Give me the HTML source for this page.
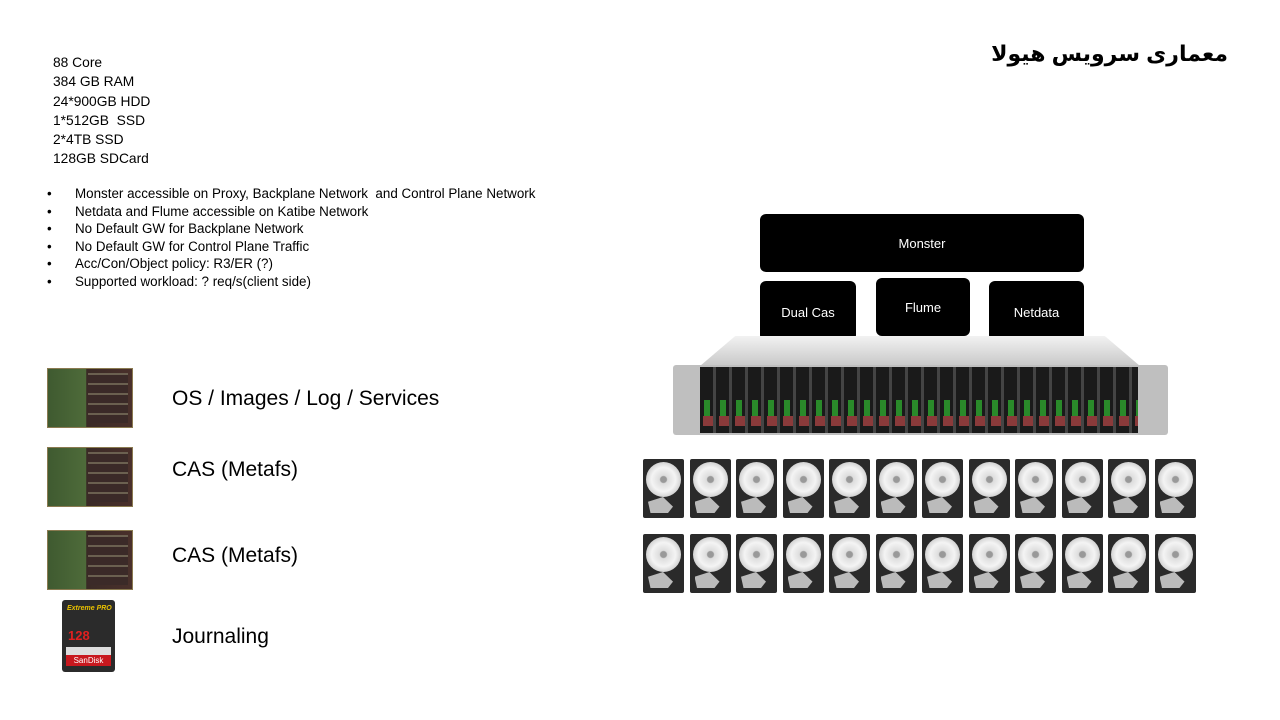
<!DOCTYPE html>
<html><head><meta charset="utf-8"><style>
body{margin:0;width:1280px;height:720px;background:#fff;position:relative;overflow:hidden;font-family:"Liberation Sans",sans-serif;color:#000}
.a{position:absolute}
.spec div{font-size:13.8px;height:19.3px;line-height:19.3px}
.bul div{font-size:13.4px;height:17.6px;line-height:17.6px;position:relative;padding-left:28px;white-space:nowrap}
.bul div:before{content:"•";position:absolute;left:0}
.big{font-size:21px}
.box{position:absolute;background:#000;color:#fff;border-radius:6px;font-size:13px;display:flex;align-items:center;justify-content:center}
.ssd{position:absolute;width:86px;height:60px;background:linear-gradient(90deg,#3f5a30 0,#4e6b3a 45%,#3a2a26 46%,#4a302b 100%);border:1px solid #8a7a50;box-sizing:border-box}
.ssd:after{content:"";position:absolute;left:40px;top:4px;width:40px;height:50px;background:repeating-linear-gradient(0deg,#3b2a28 0 8px,#6b6050 8px 10px)}
.hdd{position:absolute;width:41px;height:59px;background:#2a2a2a;border-radius:2px}
.hdd:before{content:"";position:absolute;left:3px;top:3px;width:35px;height:35px;border-radius:50%;background:radial-gradient(circle,#999 0 3px,#ddd 4px,#f4f4f4 12px,#cfcfcf 18px)}
.hdd:after{content:"";position:absolute;left:5px;top:38px;width:25px;height:16px;background:#bbb;clip-path:polygon(0 30%,60% 0,100% 60%,80% 100%,10% 100%)}
</style></head><body>
<div class="a" style="right:52px;top:41px;font-size:22px;font-weight:bold;font-family:'Liberation Sans','DejaVu Sans',sans-serif" dir="rtl">معماری سرویس هیولا</div>
<div class="a spec" style="left:53px;top:53px">
<div>88 Core</div><div>384 GB RAM</div><div>24*900GB HDD</div><div>1*512GB &nbsp;SSD</div><div>2*4TB SSD</div><div>128GB SDCard</div></div>
<div class="a bul" style="left:47px;top:185px">
<div>Monster accessible on Proxy, Backplane Network &nbsp;and Control Plane Network</div>
<div>Netdata and Flume accessible on Katibe Network</div>
<div>No Default GW for Backplane Network</div>
<div>No Default GW for Control Plane Traffic</div>
<div>Acc/Con/Object policy: R3/ER (?)</div>
<div>Supported workload: ? req/s(client side)</div></div>
<div class="ssd" style="left:47px;top:368px"></div>
<div class="ssd" style="left:47px;top:447px"></div>
<div class="ssd" style="left:47px;top:530px"></div>
<div class="a" style="left:62px;top:600px;width:53px;height:72px;background:#2b2b2b;border-radius:3px">
<div class="a" style="left:5px;top:5px;color:#e8c000;font-size:7px;font-weight:bold;font-style:italic">Extreme PRO</div>
<div class="a" style="left:6px;top:28px;color:#e02020;font-size:13px;font-weight:bold">128</div>
<div class="a" style="left:4px;top:47px;width:45px;height:8px;background:#ddd"></div>
<div class="a" style="left:4px;top:55px;width:45px;height:11px;background:#c8181e;color:#fff;font-size:8px;text-align:center;line-height:11px">SanDisk</div></div>
<div class="a big" style="left:172px;top:387px">OS / Images / Log / Services</div>
<div class="a big" style="left:172px;top:458px">CAS (Metafs)</div>
<div class="a big" style="left:172px;top:544px">CAS (Metafs)</div>
<div class="a big" style="left:172px;top:625px">Journaling</div>
<div class="box" style="left:760px;top:214px;width:324px;height:58px">Monster</div>
<div class="box" style="left:760px;top:281px;width:96px;height:58px;padding-top:2px">Dual Cas</div>
<div class="box" style="left:876px;top:278px;width:94px;height:58px">Flume</div>
<div class="box" style="left:989px;top:281px;width:95px;height:58px;padding-top:2px">Netdata</div>
<div class="a" style="left:700px;top:336px;width:440px;height:30px;background:linear-gradient(#f2f2f2,#c8c8c8);clip-path:polygon(8% 0,92% 0,100% 100%,0 100%)"></div>
<div class="a" style="left:673px;top:365px;width:495px;height:70px;background:#bfbfbf;border-radius:3px"></div>
<div class="a" style="left:700px;top:367px;width:438px;height:66px;background:repeating-linear-gradient(90deg,#1a1a1a 0 13px,#444 13px 16px)"></div>
<div class="a" style="left:700px;top:400px;width:438px;height:20px;background:repeating-linear-gradient(90deg,transparent 0 4px,#2a8a2a 4px 10px,transparent 10px 16px)"></div>
<div class="a" style="left:700px;top:416px;width:438px;height:10px;background:repeating-linear-gradient(90deg,transparent 0 3px,#8a3a3a 3px 13px,transparent 13px 16px)"></div>
<div id="h"></div>
<script>
var s="";for(var r=0;r<2;r++)for(var i=0;i<12;i++)s+='<div class="hdd" style="left:'+(643+i*46.5)+'px;top:'+(459+r*75)+'px"></div>';
document.getElementById('h').innerHTML=s;
</script>
</body></html>
